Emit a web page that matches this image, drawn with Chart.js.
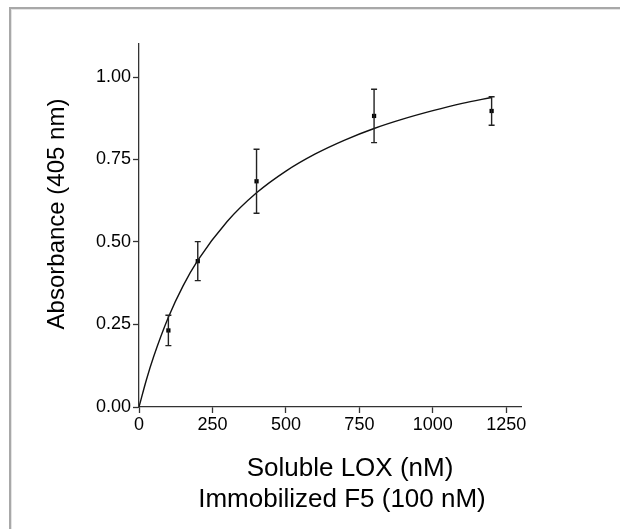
<!DOCTYPE html>
<html>
<head>
<meta charset="utf-8">
<script src="https://cdn.jsdelivr.net/npm/chart.js@4/dist/chart.umd.min.js"></script>
<style>
  html, body { margin: 0; padding: 0; background: #fff; }
  #frame {
    position: absolute; left: 9px; top: 7px; right: -10px; bottom: -10px;
    border-top: 2px solid #a8a8a8; border-left: 2px solid #a8a8a8;
    box-shadow: inset 1px 1px 0 #e4e4e4;
  }
  #bindingChart { position: absolute; left: 0; top: 0; }
</style>
</head>
<body>
<div id="frame"></div>
<canvas id="bindingChart" width="620" height="529"></canvas>
<script>
// measured points (mean ± error)
const concentrations = [100, 200, 400, 800, 1200];
const absorbance = [0.232, 0.442, 0.684, 0.882, 0.897];
const errors = [0.046, 0.059, 0.097, 0.081, 0.043];

// fitted saturation curve
const fitX = [0, 25, 50, 100, 150, 200, 300, 400, 500, 600, 700, 800, 900, 1000, 1100, 1200];
const fitY = [0, 0.082, 0.153, 0.272, 0.367, 0.444, 0.562, 0.649, 0.715, 0.767, 0.809, 0.844, 0.873, 0.898, 0.92, 0.938];

const xTicks = [0, 250, 500, 750, 1000, 1250];
const yTicks = [0, 0.25, 0.5, 0.75, 1.0];

const yTitle = "Absorbance (405 nm)";
const xTitle = ["Soluble LOX (nM)", "Immobilized F5 (100 nM)"];

const FONT = "'Liberation Sans', Arial, sans-serif";

const errorBars = {
  id: "errorBars",
  afterDatasetsDraw(chart) {
    const { ctx, scales } = chart;
    ctx.save();
    ctx.strokeStyle = "#222";
    ctx.lineWidth = 1.4;
    concentrations.forEach((c, i) => {
      const x = scales.x.getPixelForValue(c);
      const top = scales.y.getPixelForValue(absorbance[i] + errors[i]);
      const bot = scales.y.getPixelForValue(absorbance[i] - errors[i]);
      ctx.beginPath();
      ctx.moveTo(x, top); ctx.lineTo(x, bot);
      ctx.moveTo(x - 3, top); ctx.lineTo(x + 3, top);
      ctx.moveTo(x - 3, bot); ctx.lineTo(x + 3, bot);
      ctx.stroke();
    });
    ctx.restore();
  },
};

const axisTitles = {
  id: "axisTitles",
  afterDraw(chart) {
    const { ctx, chartArea } = chart;
    ctx.save();
    ctx.fillStyle = "#000";
    ctx.textAlign = "center";
    ctx.textBaseline = "middle";
    ctx.font = "24px " + FONT;
    ctx.translate(57, 214);
    ctx.rotate(-Math.PI / 2);
    ctx.fillText(yTitle, 0, 0);
    ctx.restore();

    ctx.save();
    ctx.fillStyle = "#000";
    ctx.textAlign = "center";
    ctx.textBaseline = "alphabetic";
    ctx.font = "26px " + FONT;
    const mid = (chartArea.left + chartArea.right) / 2;
    ctx.fillText(xTitle[0], mid + 20, chartArea.bottom + 69);
    ctx.fillText(xTitle[1], mid + 12, chartArea.bottom + 100);
    ctx.restore();
  },
};

new Chart(document.getElementById("bindingChart"), {
  type: "scatter",
  data: {
    datasets: [
      {
        label: "fit",
        type: "line",
        data: fitX.map((x, i) => ({ x: x, y: fitY[i] })),
        borderColor: "#111",
        borderWidth: 1.4,
        pointRadius: 0,
        cubicInterpolationMode: "monotone",
        fill: false,
      },
      {
        label: "data",
        data: concentrations.map((x, i) => ({ x: x, y: absorbance[i] })),
        pointStyle: "rect",
        pointRadius: 3,
        backgroundColor: "#000",
        borderColor: "#000",
        borderWidth: 0,
      },
    ],
  },
  options: {
    responsive: false,
    animation: false,
    layout: { padding: { top: 44, right: 99, left: 0, bottom: 0 } },
    plugins: {
      legend: { display: false },
      tooltip: { enabled: false },
    },
    scales: {
      x: {
        type: "linear",
        min: 0,
        max: 1300,
        afterFit(scale) { scale.height = 122; },
        afterBuildTicks(scale) { scale.ticks = xTicks.map((v) => ({ value: v })); },
        border: { color: "#333", width: 1.3 },
        grid: { drawOnChartArea: false, tickLength: 6, tickColor: "#333", tickWidth: 1.3 },
        ticks: {
          color: "#000",
          padding: 1,
          font: { family: FONT, size: 18 },
          callback: (v) => String(v),
        },
      },
      y: {
        type: "linear",
        min: 0,
        max: 1.1,
        afterFit(scale) { scale.width = 139; },
        afterBuildTicks(scale) { scale.ticks = yTicks.map((v) => ({ value: v })); },
        border: { color: "#333", width: 1.3 },
        grid: { drawOnChartArea: false, tickLength: 6, tickColor: "#333", tickWidth: 1.3 },
        ticks: {
          color: "#000",
          padding: 2,
          font: { family: FONT, size: 18 },
          callback: (v) => v.toFixed(2),
        },
      },
    },
  },
  plugins: [errorBars, axisTitles],
});
</script>
</body>
</html>
